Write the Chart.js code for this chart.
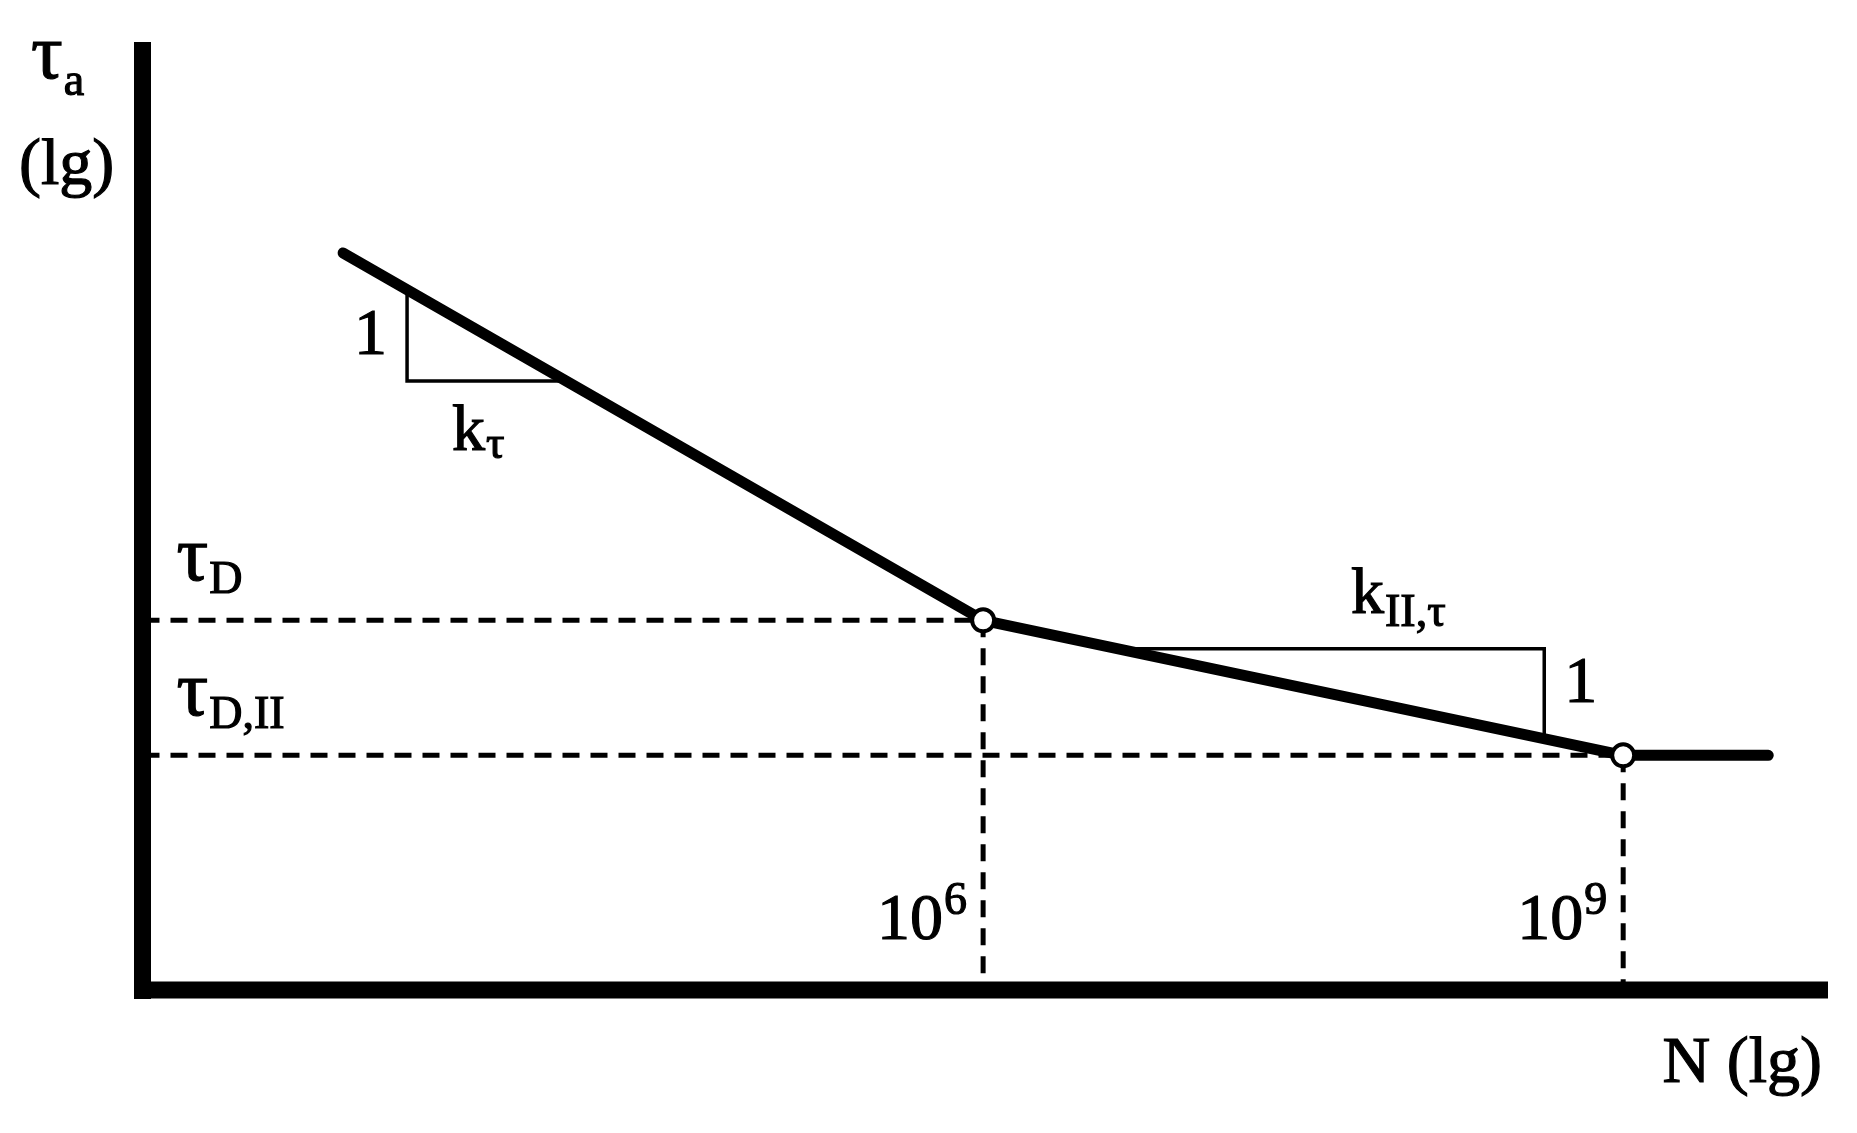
<!DOCTYPE html>
<html>
<head>
<meta charset="utf-8">
<script src="https://cdn.jsdelivr.net/npm/chart.js@4.4.1/dist/chart.umd.min.js"></script>
<style>
  html, body { margin: 0; padding: 0; background: #fff; }
  #wrap { width: 1857px; height: 1133px; }
</style>
</head>
<body>
<div id="wrap"><canvas id="snChart" width="1857" height="1133"></canvas></div>
<script>
// axis ranges (lg N, lg tau in arbitrary units)
const nRange = [2.06, 9.96];
const tauRange = [0, 8];

// S-N curve
const curveN = [3, 6, 9, 9.68];
const curveTau = [6.22, 3.12, 1.98, 1.98];

// knee points (10^6 and 10^9)
const kneeN = [6, 9];
const kneeTau = [3.12, 1.98];
const kneeExp = ['6', '9'];

// slope triangles
const tri1N = [3.3, 3.3, 4.045];
const tri1Tau = [5.91, 5.14, 5.14];
const tri2N = [6.63, 8.63, 8.63];
const tri2Tau = [2.88, 2.88, 2.12];

// level labels
const levelTau = [3.12, 1.98];
const levelSub = ['D', 'D,II'];

const FONT = "'Liberation Serif', 'Times New Roman', serif";
const MAIN = 66;
const SMALL = 46;

function pts(xs, ys) {
    return xs.map((x, i) => ({ x: x, y: ys[i] }));
}

// slightly heavier text, the original font is darker than Liberation
function txt(ctx, s, x, y) {
    ctx.fillText(s, x, y);
    ctx.strokeText(s, x, y);
}

// text with a sub/superscript after it
function drawIndexed(ctx, base, idx, x, y, dy, align) {
    // the greek tau is small in Liberation, scale it up a bit
    const baseSize = base === 'τ' ? Math.round(MAIN * 1.2) : MAIN;
    ctx.font = baseSize + 'px ' + FONT;
    const w1 = ctx.measureText(base).width;
    ctx.font = SMALL + 'px ' + FONT;
    const w2 = ctx.measureText(idx).width;
    let left = x;
    if (align === 'right') left = x - w1 - w2 - 2;
    ctx.textAlign = 'left';
    ctx.textBaseline = 'alphabetic';
    ctx.font = baseSize + 'px ' + FONT;
    txt(ctx, base, left, y);
    ctx.font = SMALL + 'px ' + FONT;
    txt(ctx, idx, left + w1 + 1, y + dy);
}

const axesPlugin = {
    id: 'axesPlugin',
    beforeDatasetsDraw(chart) {
        const ctx = chart.ctx;
        const a = chart.chartArea;
        ctx.save();
        ctx.fillStyle = '#000';
        // y axis
        ctx.fillRect(a.left - 8.5, a.top, 17, a.bottom - a.top + 9);
        // x axis
        ctx.fillRect(a.left - 6.5, a.bottom - 8.5, a.right - a.left + 6.5, 17);
        ctx.restore();
    },
    afterDatasetsDraw(chart) {
        const ctx = chart.ctx;
        const xs = chart.scales.x, ys = chart.scales.y;
        const a = chart.chartArea;
        ctx.save();
        ctx.fillStyle = '#000';
        ctx.strokeStyle = '#000';
        ctx.lineWidth = 1.2;

        // y axis title
        drawIndexed(ctx, 'τ', 'a', 31, 78, 17, 'left');
        ctx.font = MAIN + 'px ' + FONT;
        ctx.textAlign = 'left';
        txt(ctx, '(lg)', 19, 184);

        // x axis title
        ctx.textAlign = 'right';
        txt(ctx, 'N (lg)', 1822, 1082);

        // level labels
        levelTau.forEach((t, i) => {
            drawIndexed(ctx, 'τ', levelSub[i], a.left + 34, ys.getPixelForValue(t) - 40, 13, 'left');
        });

        // tick labels 10^6, 10^9
        kneeN.forEach((n, i) => {
            const xr = xs.getPixelForValue(n) - 15;
            drawIndexed(ctx, '10', kneeExp[i], xr, ys.getPixelForValue(0) - 51, -25, 'right');
        });

        // slope labels
        ctx.font = MAIN + 'px ' + FONT;
        ctx.textAlign = 'right';
        txt(ctx, '1', xs.getPixelForValue(tri1N[0]) - 20, 354);
        ctx.textAlign = 'left';
        txt(ctx, '1', xs.getPixelForValue(tri2N[1]) + 20, 702);
        drawIndexed(ctx, 'k', 'τ', 452, 450, 8, 'left');
        drawIndexed(ctx, 'k', 'II,τ', 1351, 613, 13, 'left');
        ctx.restore();
    }
};

const dashStyle = {
    showLine: true,
    borderColor: '#000',
    borderWidth: 5,
    borderDash: [17, 11],
    pointRadius: 0,
    order: 3
};

const triStyle = {
    showLine: true,
    borderColor: '#000',
    borderWidth: 3.5,
    borderJoinStyle: 'miter',
    pointRadius: 0,
    order: 2
};

const ctx = document.getElementById('snChart').getContext('2d');
new Chart(ctx, {
    type: 'scatter',
    data: {
        datasets: [
            Object.assign({ data: pts([nRange[0], kneeN[0]], [kneeTau[0], kneeTau[0]]) }, dashStyle),
            Object.assign({ data: pts([nRange[0], kneeN[1]], [kneeTau[1], kneeTau[1]]) }, dashStyle),
            Object.assign({ data: pts([kneeN[0], kneeN[0]], [kneeTau[0], tauRange[0]]) }, dashStyle),
            Object.assign({ data: pts([kneeN[1], kneeN[1]], [kneeTau[1], tauRange[0]]) }, dashStyle),
            Object.assign({ data: pts(tri1N, tri1Tau) }, triStyle),
            Object.assign({ data: pts(tri2N, tri2Tau) }, triStyle),
            {
                data: pts(curveN, curveTau),
                showLine: true,
                borderColor: '#000',
                borderWidth: 11,
                borderCapStyle: 'round',
                borderJoinStyle: 'round',
                pointRadius: 0,
                order: 1
            },
            {
                data: pts(kneeN, kneeTau),
                pointRadius: 11,
                pointBackgroundColor: '#fff',
                pointBorderColor: '#000',
                pointBorderWidth: 4,
                order: 0
            }
        ]
    },
    options: {
        responsive: false,
        animation: false,
        devicePixelRatio: 1,
        layout: { padding: { left: 142.5, right: 29, top: 42, bottom: 143 } },
        plugins: {
            legend: { display: false },
            tooltip: { enabled: false }
        },
        scales: {
            x: { type: 'linear', display: false, min: nRange[0], max: nRange[1] },
            y: { type: 'linear', display: false, min: tauRange[0], max: tauRange[1] }
        },
        elements: { line: { tension: 0 } }
    },
    plugins: [axesPlugin]
});
</script>
</body>
</html>
